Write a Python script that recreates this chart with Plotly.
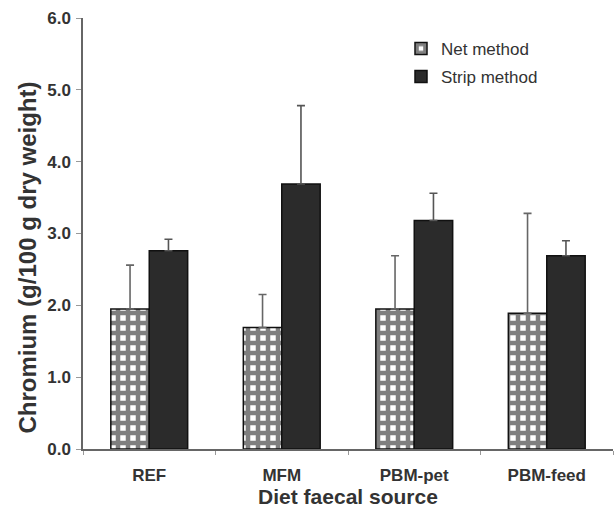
import plotly.graph_objects as go

categories = ["REF", "MFM", "PBM-pet", "PBM-feed"]
net_values = [1.95, 1.69, 1.95, 1.89]
net_upper = [2.56, 2.15, 2.69, 3.28]
strip_values = [2.76, 3.69, 3.18, 2.69]
strip_upper = [2.92, 4.78, 3.56, 2.90]
y_ticks = [0, 1, 2, 3, 4, 5, 6]
y_ticklabels = ["0.0", "1.0", "2.0", "3.0", "4.0", "5.0", "6.0"]

FONT = "Liberation Sans, Arial, sans-serif"

fig = go.Figure()
fig.add_trace(go.Bar(
    x=categories, y=net_values, name="Net method", legendgroup="a",
    marker=dict(color="white", line=dict(color="#111", width=1.5),
                pattern=dict(shape="+", fgcolor="#000", bgcolor="white", size=10, solidity=0.7)),
    error_y=dict(type="data", symmetric=False,
                 array=[u - v for u, v in zip(net_upper, net_values)],
                 arrayminus=[0] * len(net_values),
                 color="#666", thickness=1.6, width=4),
))
fig.add_trace(go.Bar(
    x=categories, y=strip_values, name="Strip method", legendgroup="b",
    marker=dict(color="#2b2b2b", line=dict(color="#111", width=1.5)),
    error_y=dict(type="data", symmetric=False,
                 array=[u - v for u, v in zip(strip_upper, strip_values)],
                 arrayminus=[0] * len(strip_values),
                 color="#555", thickness=1.6, width=4),
))

fig.add_annotation(
    text="<b>Chromium (g/100 g dry weight)</b>", textangle=-90,
    xref="paper", yref="paper", x=-0.105, y=0.445, xanchor="center", yanchor="middle",
    showarrow=False, font=dict(size=24, color="#333", family=FONT),
)

fig.update_layout(
    width=614, height=510,
    margin=dict(l=83, r=1, t=18, b=61),
    paper_bgcolor="white", plot_bgcolor="white",
    barmode="group", bargap=0.42, bargroupgap=0,
    font=dict(family=FONT, color="#333"),
    showlegend=True,
    legend=dict(x=0.6, y=0.97, xanchor="left", yanchor="top",
                font=dict(size=17, color="#333", family=FONT),
                traceorder="grouped", tracegroupgap=3,
                bgcolor="rgba(0,0,0,0)"),
    xaxis=dict(
        showline=True, linecolor="#666", linewidth=1.5,
        ticks="outside", ticklen=4, tickcolor="#999", tickson="boundaries",
        tickfont=dict(size=17, color="#333", family=FONT),
        ticklabelstandoff=10,
        title=dict(text="<b>Diet faecal source</b>", font=dict(size=21, color="#333"), standoff=4),
        tickprefix="<b>", ticksuffix="</b>",
        showgrid=False, automargin=False,
    ),
    yaxis=dict(
        range=[0, 6], tickvals=y_ticks, ticktext=["<b>%s</b>" % t for t in y_ticklabels],
        showline=True, linecolor="#666", linewidth=1.5,
        ticks="outside", ticklen=5, tickcolor="#999",
        tickfont=dict(size=17, color="#333", family=FONT),
        ticklabelstandoff=2,
        showgrid=False, zeroline=False, automargin=False,
    ),
)

fig.write_html("out.html", config={"displayModeBar": False},
               post_script="document.body.style.margin='0';")
